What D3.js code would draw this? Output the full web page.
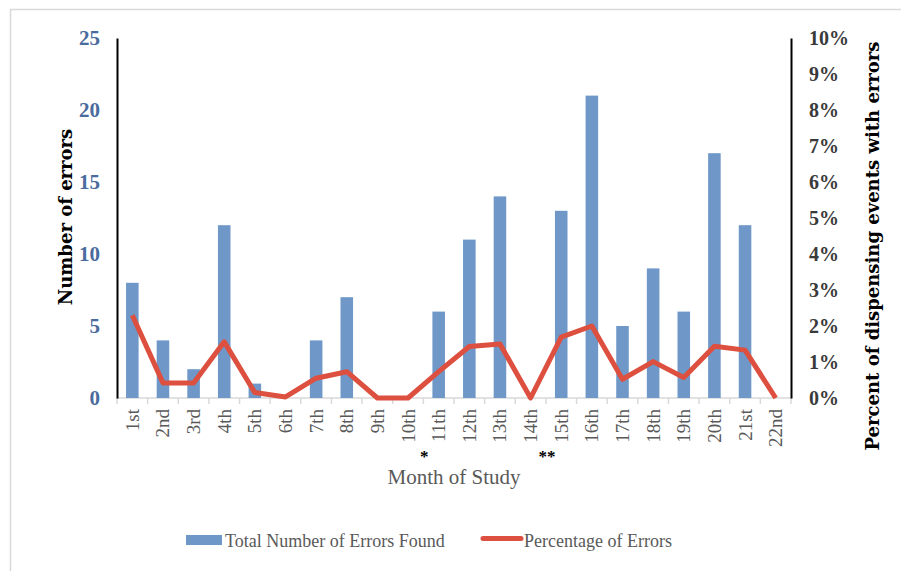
<!DOCTYPE html>
<html>
<head>
<meta charset="utf-8">
<script src="https://cdn.jsdelivr.net/npm/d3@7"></script>
<style>
  body { margin: 0; background: #fff; }
  svg { display: block; }
</style>
</head>
<body>
<div id="chart"></div>
<script>
var months = ["1st", "2nd", "3rd", "4th", "5th", "6th", "7th", "8th", "9th", "10th", "11th",
  "12th", "13th", "14th", "15th", "16th", "17th", "18th", "19th", "20th", "21st", "22nd"];
var errorCounts = [8, 4, 2, 12, 1, 0, 4, 7, 0, 0, 6, 11, 14, 0, 13, 21, 5, 9, 6, 17, 12, 0];
var errorPercents = [0.023, 0.0042, 0.0042, 0.0156, 0.0015, 0.0003, 0.0055, 0.0073, 0, 0, 0.0073,
  0.0143, 0.015, 0, 0.0169, 0.02, 0.0052, 0.0101, 0.0057, 0.0144, 0.0133, 0];
var leftTicks = [0, 5, 10, 15, 20, 25];
var rightTicks = [0, 0.01, 0.02, 0.03, 0.04, 0.05, 0.06, 0.07, 0.08, 0.09, 0.10];
// footnote marks under the month labels
var notes = [{after: "10th", mark: "*"}, {after: "14th", mark: "**"}];

var svgWidth = 901;
var svgHeight = 571;

var margin = {
  top: 38,
  right: 110,
  bottom: 173,
  left: 117
};

var width = svgWidth - margin.left - margin.right;
var height = svgHeight - margin.top - margin.bottom;

var serif = "'Liberation Serif', 'DejaVu Serif', serif";
var wideSerif = "'DejaVu Serif', 'Liberation Serif', serif";

var svg = d3.select("#chart")
  .append("svg")
  .attr("width", svgWidth)
  .attr("height", svgHeight);

// light frame around the picture
svg.append("rect")
  .attr("x", 10.5)
  .attr("y", 9.5)
  .attr("width", svgWidth)
  .attr("height", svgHeight)
  .attr("fill", "none")
  .attr("stroke", "#d9d9d9")
  .attr("stroke-width", 1.5);

var chartGroup = svg.append("g")
  .attr("transform", `translate(${margin.left}, ${margin.top})`);

// scales
var xBand = d3.scaleBand()
  .domain(months)
  .range([0, width]);

var xBar = d3.scaleBand()
  .domain(months)
  .range([0, width])
  .paddingInner(0.59)
  .paddingOuter(0.295);

var yLeft = d3.scaleLinear()
  .domain([0, 25])
  .range([height, 0]);

var yRight = d3.scaleLinear()
  .domain([0, 0.10])
  .range([height, 0]);

// x axis: light baseline with ticks between months
var xAxis = chartGroup.append("g")
  .attr("transform", `translate(0, ${height})`);

xAxis.append("line")
  .attr("x1", 0)
  .attr("x2", width)
  .attr("stroke", "#d9d9d9")
  .attr("stroke-width", 1.5);

xAxis.selectAll(".tick-mark")
  .data(months.concat(["end"]))
  .enter()
  .append("line")
  .attr("x1", (d, i) => i * xBand.step())
  .attr("x2", (d, i) => i * xBand.step())
  .attr("y1", 0)
  .attr("y2", 6)
  .attr("stroke", "#d9d9d9")
  .attr("stroke-width", 1.5);

xAxis.selectAll(".month-label")
  .data(months)
  .enter()
  .append("text")
  .attr("transform", d => `translate(${xBand(d) + xBand.bandwidth() / 2 + 6.5}, 11) rotate(-90)`)
  .attr("text-anchor", "end")
  .attr("font-family", serif)
  .attr("font-size", "19px")
  .attr("fill", "#595959")
  .text(d => d);

// footnote stars
xAxis.selectAll(".note")
  .data(notes)
  .enter()
  .append("text")
  .attr("x", d => xBand(d.after) + xBand.step() + 1)
  .attr("y", 64)
  .attr("text-anchor", "middle")
  .attr("font-family", serif)
  .attr("font-size", "17px")
  .attr("font-weight", "bold")
  .attr("fill", "#000")
  .text(d => d.mark);

// bars
chartGroup.selectAll(".bar")
  .data(errorCounts)
  .enter()
  .append("rect")
  .attr("x", (d, i) => xBar(months[i]))
  .attr("y", d => yLeft(d))
  .attr("width", xBar.bandwidth())
  .attr("height", d => height - yLeft(d))
  .attr("fill", "#6f98c8");

// percentage line
var line = d3.line()
  .x((d, i) => xBand(months[i]) + xBand.bandwidth() / 2)
  .y(d => yRight(d));

chartGroup.append("path")
  .datum(errorPercents)
  .attr("d", line)
  .attr("fill", "none")
  .attr("stroke", "#dd4f3f")
  .attr("stroke-width", 5)
  .attr("stroke-linejoin", "round");

// left axis
var leftAxis = d3.axisLeft(yLeft).tickValues(leftTicks).tickSize(0).tickPadding(17);
var yAxisLeft = chartGroup.append("g").call(leftAxis);
yAxisLeft.select(".domain").attr("stroke", "#000").attr("stroke-width", 2);
yAxisLeft.selectAll("text")
  .attr("font-family", serif)
  .attr("font-size", "21px")
  .attr("font-weight", "bold")
  .attr("fill", "#4a6b9d");

// right axis
var rightAxis = d3.axisRight(yRight).tickValues(rightTicks).tickSize(0).tickPadding(18)
  .tickFormat(d3.format(".0%"));
var yAxisRight = chartGroup.append("g")
  .attr("transform", `translate(${width}, 0)`)
  .call(rightAxis);
yAxisRight.select(".domain").attr("stroke", "#000").attr("stroke-width", 2);
yAxisRight.selectAll("text")
  .attr("font-family", serif)
  .attr("font-size", "20px")
  .attr("font-weight", "bold")
  .attr("fill", "#3a3a3a");

// axis titles
svg.append("text")
  .attr("transform", "translate(72, 217) rotate(-90)")
  .attr("text-anchor", "middle")
  .attr("font-family", wideSerif)
  .attr("font-size", "18px")
  .attr("font-weight", "bold")
  .attr("fill", "#000")
  .text("Number of errors");

svg.append("text")
  .attr("transform", "translate(879, 246) rotate(-90)")
  .attr("text-anchor", "middle")
  .attr("font-family", wideSerif)
  .attr("font-size", "18px")
  .attr("font-weight", "bold")
  .attr("fill", "#000")
  .text("Percent of dispensing events with errors");

svg.append("text")
  .attr("x", 454)
  .attr("y", 484)
  .attr("text-anchor", "middle")
  .attr("font-family", serif)
  .attr("font-size", "21px")
  .attr("fill", "#595959")
  .text("Month of Study");

// legend
var legend = svg.append("g");

legend.append("rect")
  .attr("x", 186)
  .attr("y", 535)
  .attr("width", 36)
  .attr("height", 10)
  .attr("fill", "#6f98c8");

legend.append("text")
  .attr("x", 225)
  .attr("y", 547)
  .attr("font-family", serif)
  .attr("font-size", "18px")
  .attr("fill", "#595959")
  .text("Total Number of Errors Found");

legend.append("line")
  .attr("x1", 483)
  .attr("x2", 521)
  .attr("y1", 538.5)
  .attr("y2", 538.5)
  .attr("stroke", "#dd4f3f")
  .attr("stroke-width", 5)
  .attr("stroke-linecap", "round");

legend.append("text")
  .attr("x", 524)
  .attr("y", 547)
  .attr("font-family", serif)
  .attr("font-size", "18px")
  .attr("fill", "#595959")
  .text("Percentage of Errors");
</script>
</body>
</html>
